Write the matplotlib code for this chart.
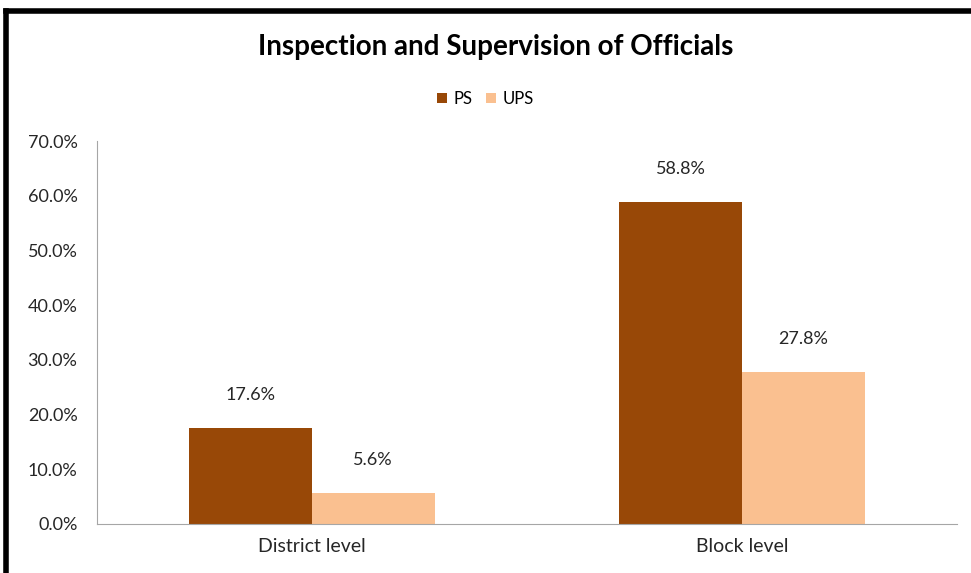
import matplotlib.pyplot as plt
import numpy as np

categories = ['District level', 'Block level']
ps = [17.6, 58.8]
ups = [5.6, 27.8]
yticks = [0, 10, 20, 30, 40, 50, 60, 70]

plt.rcParams['font.family'] = ['Lato', 'DejaVu Sans']

fig = plt.figure(figsize=(9.71, 5.73), dpi=100)
ax = fig.add_axes([97/971, 1 - 524/573, 860/971, 383/573])

x = np.arange(len(categories))
bar_w = 0.285
b1 = ax.bar(x - bar_w/2, ps, width=bar_w, color='#984807', label='PS')
b2 = ax.bar(x + bar_w/2, ups, width=bar_w, color='#FAC090', label='UPS')

# value labels above bars
for bars, vals in ((b1, ps), (b2, ups)):
    for b, v in zip(bars, vals):
        ax.annotate('%.1f%%' % v, (b.get_x() + b.get_width()/2, v),
                    xytext=(0, 18), textcoords='offset points',
                    ha='center', va='bottom', fontsize=13, color='#262626')

ax.set_xlim(-0.5, 1.5)
ax.set_ylim(0, 70)
ax.set_yticks(yticks)
ax.set_yticklabels(['%.1f%%' % t for t in yticks], fontsize=13, color='#262626')
ax.set_xticks(x)
ax.set_xticklabels(categories, fontsize=14, color='#262626')
ax.tick_params(axis='both', length=0, pad=10)
ax.tick_params(axis='y', pad=14)
for s in ['top', 'right']:
    ax.spines[s].set_visible(False)
for s in ['left', 'bottom']:
    ax.spines[s].set_color('#A6A6A6')

fig.text(0.51, 1 - 47/573, 'Inspection and Supervision of Officials',
         ha='center', va='center', fontsize=20, fontweight='bold')
fig.legend(loc='center', bbox_to_anchor=(0.5, 1 - 99/573), ncol=2, frameon=False,
           fontsize=12, handlelength=0.6, handleheight=0.6, handletextpad=0.4,
           columnspacing=0.8)

# outer frame lines (top and left)
fig.add_artist(plt.Line2D([6/971, 1], [1 - 11/573, 1 - 11/573], color='black', lw=4,
                          transform=fig.transFigure))
fig.add_artist(plt.Line2D([6/971, 6/971], [0, 1 - 11/573], color='black', lw=4,
                          transform=fig.transFigure))

fig.savefig('out.png', dpi=100)
